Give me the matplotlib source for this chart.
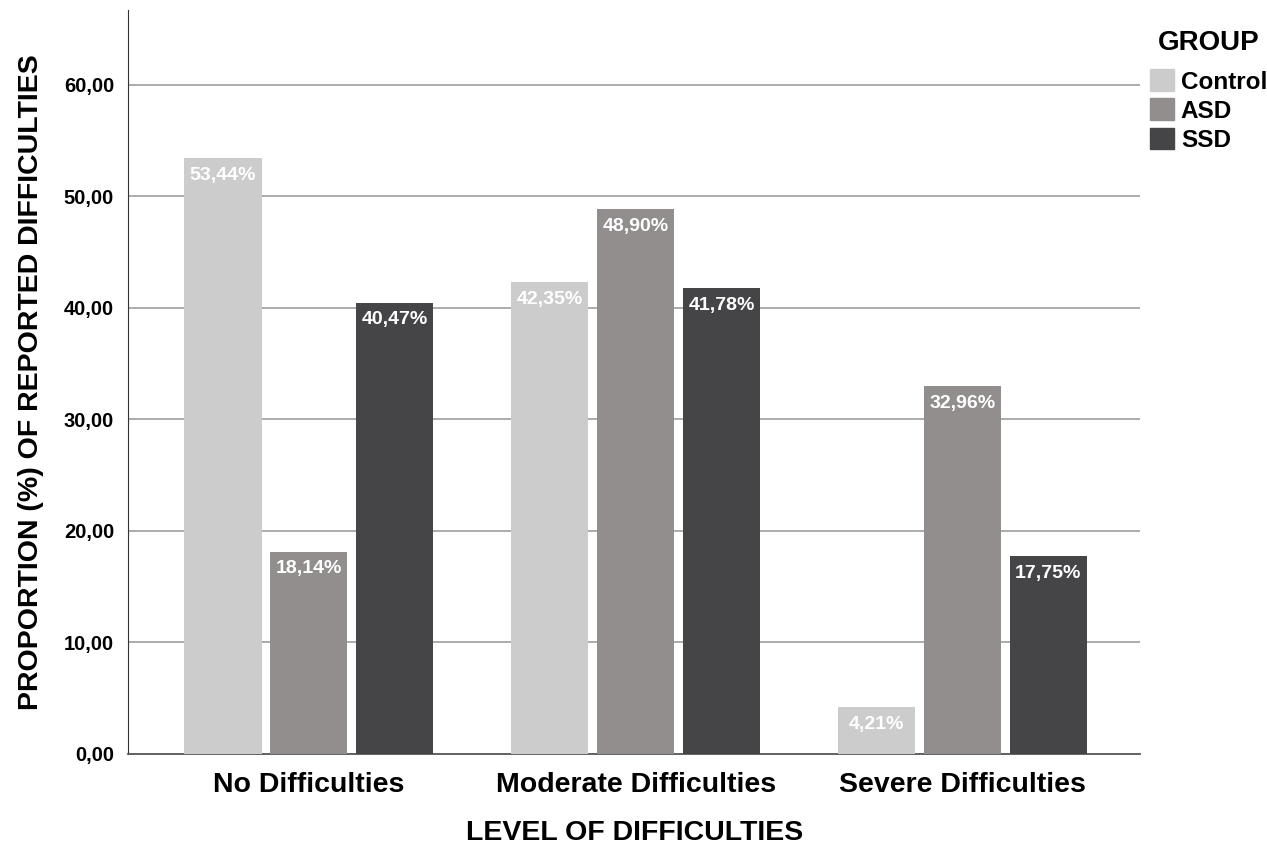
import matplotlib.pyplot as plt
import numpy as np
from matplotlib.patches import Patch

plt.rcParams['font.family'] = ['Liberation Sans', 'DejaVu Sans']

# data
levels = ['No Difficulties', 'Moderate Difficulties', 'Severe Difficulties']
groups = ['Control', 'ASD', 'SSD']
control = [53.44, 42.35, 4.21]
asd = [18.14, 48.90, 32.96]
ssd = [40.47, 41.78, 17.75]
colors = ['#cccccc', '#918e8d', '#454548']

fig = plt.figure(figsize=(12.67, 8.48), dpi=100)
ax = fig.add_axes([0.101, 0.111, 0.799, 0.877])

x = np.arange(len(levels))
width = 0.236
step = 0.263
for i, (vals, col) in enumerate(zip([control, asd, ssd], colors)):
    pos = x + (i - 1) * step
    bars = ax.bar(pos, vals, width, color=col, zorder=3)
    for b, v in zip(bars, vals):
        ax.annotate(f'{v:.2f}%'.replace('.', ','), (b.get_x() + b.get_width() / 2, v),
                    xytext=(0, -12.5), textcoords='offset points', ha='center', va='center',
                    color='white', fontweight='bold', fontsize=14, zorder=4)

ax.set_xlim(-0.554, 2.545)
ax.set_ylim(0, 66.7)
ax.set_yticks(np.arange(0, 61, 10))
ax.set_yticklabels([f'{v:.2f}'.replace('.', ',') for v in np.arange(0, 61, 10)],
                   fontweight='bold', fontsize=14.5)
ax.set_xticks(x)
ax.set_xticklabels(levels, fontweight='bold', fontsize=20.5)
ax.tick_params(axis='both', length=0)
ax.tick_params(axis='x', pad=13)
ax.tick_params(axis='y', pad=10)

for yv in range(10, 61, 10):
    ax.axhline(yv, color='#a6a6a6', lw=1.3, zorder=1)

for s in ['top', 'right']:
    ax.spines[s].set_visible(False)
ax.spines['left'].set_color('#333333')
ax.spines['bottom'].set_color('#555555')
ax.spines['bottom'].set_linewidth(1.3)

ax.set_ylabel('PROPORTION (%) OF REPORTED DIFFICULTIES', fontweight='bold', fontsize=20.5, labelpad=14)
ax.set_xlabel('LEVEL OF DIFFICULTIES', fontweight='bold', fontsize=20.5, labelpad=16)

handles = [Patch(color=c, label=g) for g, c in zip(groups, colors)]
leg = ax.legend(handles=handles, title='GROUP', loc='upper left', bbox_to_anchor=(1.01, 0.974),
                frameon=False, prop={'weight': 'bold', 'size': 17.5},
                handlelength=0.95, handleheight=1.0, handletextpad=0.3, labelspacing=0.2,
                borderaxespad=0, borderpad=0)
leg.get_title().set_fontweight('bold')
leg.get_title().set_fontsize(20)
leg._legend_box.sep = 10

fig.savefig('out.png', dpi=100)
